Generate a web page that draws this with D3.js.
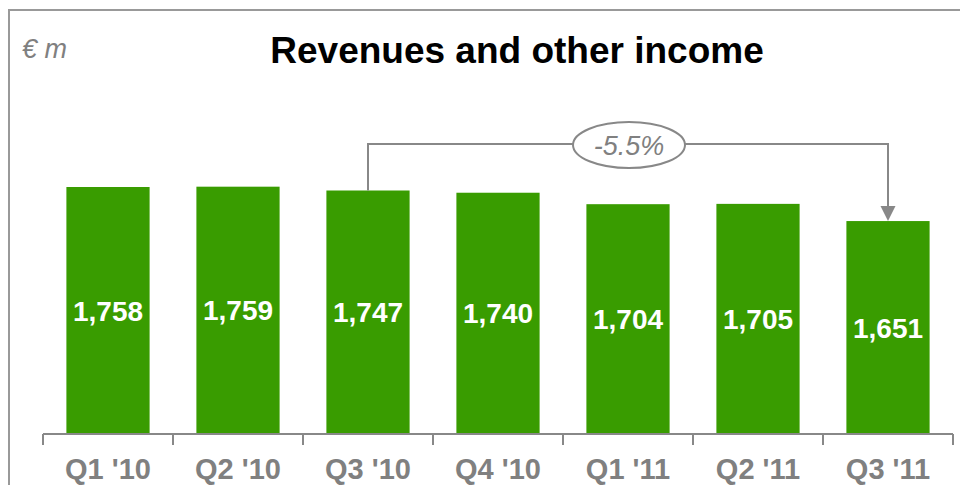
<!DOCTYPE html>
<html>
<head>
<meta charset="utf-8">
<script src="https://cdn.jsdelivr.net/npm/d3@7"></script>
<style>
  body { margin: 0; background: #fff; }
  svg { display: block; font-family: "Liberation Sans", Arial, sans-serif; }
</style>
</head>
<body>
<div id="chart"></div>
<script>
// data
var quarters = ["Q1 '10", "Q2 '10", "Q3 '10", "Q4 '10", "Q1 '11", "Q2 '11", "Q3 '11"];
var revenues = [1758, 1759, 1747, 1740, 1704, 1705, 1651];
var changeLabel = "-5.5%";
var changeFrom = 2, changeTo = 6;

var width = 960, height = 485;
var svg = d3.select("#chart").append("svg")
    .attr("width", width)
    .attr("height", height);

// frame
svg.append("rect")
    .attr("x", 9).attr("y", 10)
    .attr("width", 1000).attr("height", 600)
    .attr("fill", "none")
    .attr("stroke", "#999")
    .attr("stroke-width", 2);

svg.append("text")
    .attr("x", 22).attr("y", 58)
    .attr("fill", "#808080")
    .style("font-size", "27px")
    .style("font-style", "italic")
    .text("€ m");

svg.append("text")
    .attr("x", 517).attr("y", 63)
    .attr("text-anchor", "middle")
    .style("font-size", "37px")
    .style("font-weight", "bold")
    .attr("fill", "#000")
    .text("Revenues and other income");

var x = d3.scaleBand()
    .domain(quarters)
    .range([43, 953])
    .paddingInner(0.36)
    .paddingOuter(0.18);

// axis does not start at zero
var y = d3.scaleLinear()
    .domain([982, 1758])
    .range([434, 187]);

var bars = svg.append("g");
bars.selectAll("rect").data(revenues)
    .enter()
    .append("rect")
    .attr("x", function(d, i) { return x(quarters[i]); })
    .attr("y", function(d) { return y(d); })
    .attr("width", x.bandwidth())
    .attr("height", function(d) { return y.range()[0] - y(d); })
    .attr("fill", "#399c00");

bars.selectAll("text").data(revenues)
    .enter()
    .append("text")
    .attr("x", function(d, i) { return x(quarters[i]) + x.bandwidth() / 2; })
    .attr("y", function(d) { return (y(d) + y.range()[0]) / 2; })
    .attr("dy", "0.36em")
    .attr("text-anchor", "middle")
    .attr("fill", "#fff")
    .style("font-size", "28px")
    .style("font-weight", "bold")
    .text(function(d) { return d3.format(",")(d); });

// x axis with ticks between the bands
var axis = svg.append("g").attr("transform", "translate(0,434)");
axis.append("line")
    .attr("x1", 43).attr("x2", 953)
    .attr("stroke", "#888").attr("stroke-width", 2);
var edges = quarters.map(function(q) { return x(q) - x.step() * x.paddingInner() / 2; });
edges.push(953);
axis.selectAll("line.tick").data(edges)
    .enter()
    .append("line")
    .attr("class", "tick")
    .attr("x1", function(d) { return d; })
    .attr("x2", function(d) { return d; })
    .attr("y1", 0).attr("y2", 11)
    .attr("stroke", "#888").attr("stroke-width", 2);
axis.selectAll("text").data(quarters)
    .enter()
    .append("text")
    .attr("x", function(d) { return x(d) + x.bandwidth() / 2; })
    .attr("y", 45)
    .attr("text-anchor", "middle")
    .attr("fill", "#808080")
    .style("font-size", "29px")
    .style("font-weight", "bold")
    .text(function(d) { return d; });

// change annotation
var x1 = x(quarters[changeFrom]) + x.bandwidth() / 2;
var x2 = x(quarters[changeTo]) + x.bandwidth() / 2;
var yTop = 144;
var yEnd = y(revenues[changeTo]);

svg.append("path")
    .attr("d", "M" + x1 + "," + y(revenues[changeFrom]) + "V" + yTop + "H" + x2 + "V" + (yEnd - 14))
    .attr("fill", "none")
    .attr("stroke", "#888")
    .attr("stroke-width", 2);
svg.append("path")
    .attr("d", "M" + (x2 - 7.5) + "," + (yEnd - 15) + "L" + (x2 + 7.5) + "," + (yEnd - 15) + "L" + x2 + "," + yEnd + "Z")
    .attr("fill", "#888");

var cx = 629;
svg.append("ellipse")
    .attr("cx", cx).attr("cy", 145)
    .attr("rx", 56).attr("ry", 23)
    .attr("fill", "#fff")
    .attr("stroke", "#888")
    .attr("stroke-width", 2);
svg.append("text")
    .attr("x", cx).attr("y", 145)
    .attr("dy", "0.36em")
    .attr("text-anchor", "middle")
    .attr("fill", "#808080")
    .style("font-size", "27px")
    .style("font-style", "italic")
    .text(changeLabel);
</script>
</body>
</html>
